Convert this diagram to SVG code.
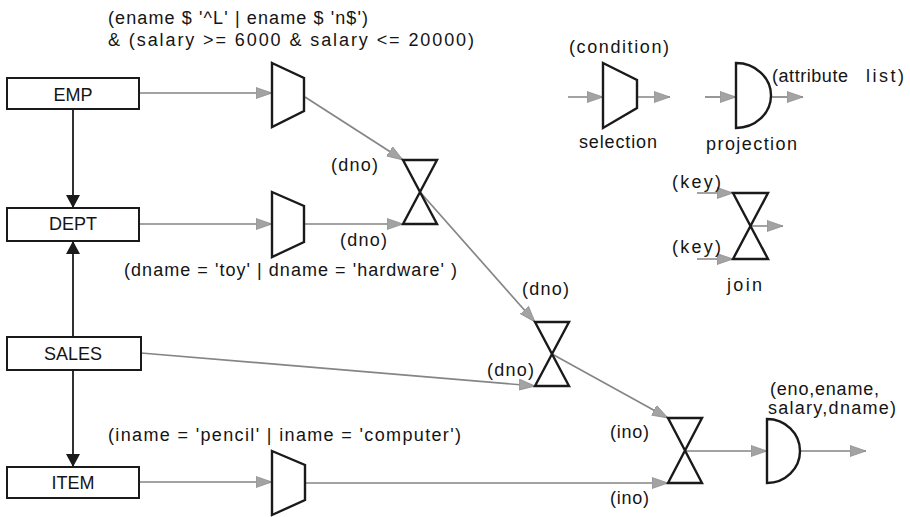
<svg xmlns="http://www.w3.org/2000/svg" width="910" height="517" viewBox="0 0 910 517">
  <style>
    text { font-family: "Liberation Sans", Arial, sans-serif; font-size: 18px; fill: #141414; }
    .box { fill: #ffffff; stroke: #1a1a1a; stroke-width: 2; }
    .op { fill: #ffffff; stroke: #1a1a1a; stroke-width: 2.4; stroke-linejoin: miter; }
    .flow { fill: none; stroke: #858585; stroke-width: 1.7; marker-end: url(#grayHead); }
    .link { fill: none; stroke: #1a1a1a; stroke-width: 1.8; marker-end: url(#blackHead); }
    .mid { text-anchor: middle; }
  </style>
  <defs>
    <marker id="grayHead" markerUnits="userSpaceOnUse" markerWidth="18" markerHeight="13" refX="16" refY="6" orient="auto">
      <path d="M0,0.5 L16,6 L0,11.5 Z" fill="#a3a3a3" stroke="#8f8f8f" stroke-width="0.8"/>
    </marker>
    <marker id="blackHead" markerUnits="userSpaceOnUse" markerWidth="14" markerHeight="16" refX="13" refY="7" orient="auto">
      <path d="M0,0 L13,7 L0,14 Z" fill="#1a1a1a"/>
    </marker>
  </defs>
  <rect width="910" height="517" fill="#ffffff"/>

  <!-- connectors -->
  <g id="connectors">
    <line class="link" x1="73" y1="109" x2="73" y2="208"/>
    <line class="link" x1="73" y1="337" x2="73" y2="241"/>
    <line class="link" x1="73" y1="370" x2="73" y2="467"/>
    <line class="flow" x1="139" y1="93" x2="272" y2="93"/>
    <line class="flow" x1="305" y1="97" x2="403" y2="160"/>
    <line class="flow" x1="139" y1="224" x2="272" y2="224"/>
    <line class="flow" x1="304" y1="224" x2="403" y2="224"/>
    <line class="flow" x1="141" y1="353" x2="535" y2="386"/>
    <line class="flow" x1="420" y1="192" x2="535" y2="322"/>
    <line class="flow" x1="139" y1="482" x2="272" y2="482"/>
    <line class="flow" x1="306" y1="483" x2="668" y2="483"/>
    <line class="flow" x1="552" y1="354" x2="668" y2="418"/>
    <line class="flow" x1="685" y1="451" x2="767" y2="451"/>
    <line class="flow" x1="800" y1="451" x2="866" y2="451"/>
    <!-- legend arrows -->
    <line class="flow" x1="568" y1="97" x2="603" y2="97"/>
    <line class="flow" x1="637" y1="97" x2="670" y2="97"/>
    <line class="flow" x1="705" y1="97" x2="736" y2="97"/>
    <line class="flow" x1="771" y1="97" x2="803" y2="97"/>
    <line class="flow" x1="697" y1="193" x2="733" y2="193"/>
    <line class="flow" x1="697" y1="259" x2="733" y2="259"/>
    <line class="flow" x1="750" y1="226" x2="783" y2="226"/>
  </g>

  <!-- relations -->
  <g id="emp">
    <rect class="box" x="7" y="78" width="132" height="31"/>
    <text class="mid" x="73" y="101">EMP</text>
  </g>
  <g id="dept">
    <rect class="box" x="7" y="208" width="132" height="33"/>
    <text class="mid" x="73" y="230">DEPT</text>
  </g>
  <g id="sales">
    <rect class="box" x="7" y="337" width="134" height="33"/>
    <text class="mid" x="73" y="360">SALES</text>
  </g>
  <g id="item">
    <rect class="box" x="7" y="467" width="132" height="31"/>
    <text class="mid" x="73" y="489">ITEM</text>
  </g>

  <!-- selections -->
  <g id="select-emp">
    <path class="op" d="M272,63 L304,78 L304,111 L272,127 Z"/>
    <text x="108" y="24" textLength="260" lengthAdjust="spacing">(ename $ '^L' | ename $ 'n$')</text>
    <text x="108" y="46" textLength="366" lengthAdjust="spacing">&amp; (salary &gt;= 6000 &amp; salary &lt;= 20000)</text>
  </g>
  <g id="select-dept">
    <path class="op" d="M272,192 L304,206 L304,242 L272,257 Z"/>
    <text x="124" y="276" textLength="333" lengthAdjust="spacing">(dname = 'toy' | dname = 'hardware' )</text>
  </g>
  <g id="select-item">
    <path class="op" d="M272,451 L305,465 L305,500 L272,515 Z"/>
    <text x="108" y="441" textLength="353" lengthAdjust="spacing">(iname = 'pencil' | iname = 'computer')</text>
  </g>

  <!-- joins -->
  <g id="join-emp-dept">
    <path class="op" d="M403,160 L437,160 L403,224 L437,224 Z"/>
    <text x="331" y="171" textLength="47" lengthAdjust="spacing">(dno)</text>
    <text x="340" y="246" textLength="47" lengthAdjust="spacing">(dno)</text>
  </g>
  <g id="join-sales">
    <path class="op" d="M535,322 L569,322 L535,386 L569,386 Z"/>
    <text x="522" y="295" textLength="47" lengthAdjust="spacing">(dno)</text>
    <text x="487" y="376" textLength="47" lengthAdjust="spacing">(dno)</text>
  </g>
  <g id="join-item">
    <path class="op" d="M668,418 L702,418 L668,483 L702,483 Z"/>
    <text x="610" y="438" textLength="39" lengthAdjust="spacing">(ino)</text>
    <text x="610" y="504" textLength="39" lengthAdjust="spacing">(ino)</text>
  </g>

  <!-- final projection -->
  <g id="project-result">
    <path class="op" d="M767,419 A33,32 0 0 1 767,483 Z"/>
    <text x="770" y="395" textLength="109" lengthAdjust="spacing">(eno,ename,</text>
    <text x="768" y="414" textLength="128" lengthAdjust="spacing">salary,dname)</text>
  </g>

  <!-- legend -->
  <g id="legend-selection">
    <path class="op" d="M603,63 L637,80 L637,108 L603,128 Z"/>
    <text x="569" y="53" textLength="100" lengthAdjust="spacing">(condition)</text>
    <text x="579" y="148" textLength="78" lengthAdjust="spacing">selection</text>
  </g>
  <g id="legend-projection">
    <path class="op" d="M736,63 A35,32.5 0 0 1 736,128 Z"/>
    <text x="772" y="82" textLength="76" lengthAdjust="spacing">(attribute</text>
    <text x="866" y="82" textLength="38" lengthAdjust="spacing">list)</text>
    <text x="706" y="150" textLength="91" lengthAdjust="spacing">projection</text>
  </g>
  <g id="legend-join">
    <path class="op" d="M733,193 L768,193 L733,259 L768,259 Z"/>
    <text x="672" y="188" textLength="49" lengthAdjust="spacing">(key)</text>
    <text x="672" y="253" textLength="49" lengthAdjust="spacing">(key)</text>
    <text x="727" y="291" textLength="35" lengthAdjust="spacing">join</text>
  </g>
</svg>
